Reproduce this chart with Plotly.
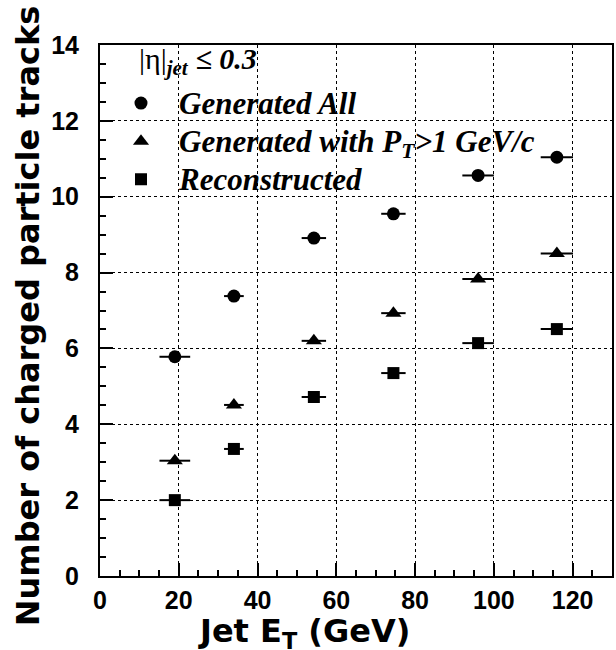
import plotly.graph_objects as go

# ---- data ----
jet_et = [19, 34, 54.3, 74.5, 96, 116]
jet_et_err = [3.9, 2.5, 3.1, 3.1, 4.0, 4.1]
gen_all = [5.78, 7.38, 8.91, 9.55, 10.56, 11.04]
gen_pt1 = [3.04, 4.51, 6.20, 6.93, 7.83, 8.50]
reco = [2.00, 3.35, 4.72, 5.35, 6.14, 6.51]

series_names = ["Generated All", "Generated with P<sub>T</sub>>1 GeV/c", "Reconstructed"]
series_vals = [gen_all, gen_pt1, reco]
series_symbols = ["circle", "triangle-up", "square"]
series_sizes = [13, 14, 12]

x_ticks = [0, 20, 40, 60, 80, 100, 120]
y_ticks = [0, 2, 4, 6, 8, 10, 12, 14]

fig = go.Figure()
for name, vals, sym, sz in zip(series_names, series_vals, series_symbols, series_sizes):
    fig.add_trace(go.Scatter(
        x=jet_et, y=vals, mode="markers",
        name='<span style="font-size:31px"><b><i>' + name + '</i></b></span>',
        marker=dict(symbol=sym, size=sz, color="black"),
        error_x=dict(type="data", array=jet_et_err, visible=True,
                     color="black", thickness=2, width=0),
    ))

W, H = 616, 650
ml, mr, mt, mb = 100, 2, 45, 74
pw, ph = W - ml - mr, H - mt - mb

def px_x(p):
    return (p - ml) / pw

def px_y(p):
    return (H - mb - p) / ph

axis_common = dict(
    showline=True, linecolor="black", linewidth=2, mirror=True,
    showgrid=True, gridcolor="black", griddash="dot", gridwidth=1,
    zeroline=False, ticks="inside", ticklen=13, tickwidth=2, tickcolor="black",
    tickfont=dict(family="Liberation Sans", size=25, color="black", weight="bold"),
)

fig.update_layout(
    width=W, height=H,
    margin=dict(l=ml, r=mr, t=mt, b=mb),
    paper_bgcolor="white", plot_bgcolor="white",
    xaxis=dict(range=[0, 130], tickvals=x_ticks,
               ticktext=["<b>%d</b>" % v for v in x_ticks],
               minor=dict(ticks="inside", ticklen=6, tickwidth=2, dtick=5, tick0=0,
                          tickcolor="black", showgrid=False),
               ticklabelstandoff=1, **axis_common),
    yaxis=dict(range=[0, 14], tickvals=y_ticks,
               ticktext=["<b>%d</b>" % v for v in y_ticks],
               minor=dict(ticks="inside", ticklen=6, tickwidth=2, dtick=0.5, tick0=0,
                          tickcolor="black", showgrid=False),
               ticklabelstandoff=14, **axis_common),
    showlegend=True,
    legend=dict(
        x=px_x(103), y=px_y(79), xanchor="left", yanchor="top",
        bgcolor="rgba(0,0,0,0)", borderwidth=0,
        font=dict(family="Liberation Serif", size=27, color="black"),
        itemwidth=66, tracegroupgap=0,
    ),
)

# header of legend
fig.add_annotation(
    xref="paper", yref="paper", x=px_x(137), y=px_y(82),
    xanchor="left", yanchor="bottom", showarrow=False,
    text="|η|<sub><b><i>jet</i></b></sub> <b><i>≤ 0.3</i></b>",
    font=dict(family="Liberation Serif", size=30, color="black"),
)

# axis titles
fig.add_annotation(
    xref="paper", yref="paper", x=px_x(305), y=px_y(633),
    xanchor="center", yanchor="middle", showarrow=False,
    text="<b>Jet E<sub>T</sub> (GeV)</b>",
    font=dict(family="DejaVu Sans", size=32, color="black"),
)
fig.add_annotation(
    xref="paper", yref="paper", x=px_x(28), y=px_y(316),
    xanchor="center", yanchor="middle", showarrow=False, textangle=-90,
    text="<b>Number of charged particle tracks</b>",
    font=dict(family="DejaVu Sans", size=32, color="black"),
)

fig.write_html("out.html")
